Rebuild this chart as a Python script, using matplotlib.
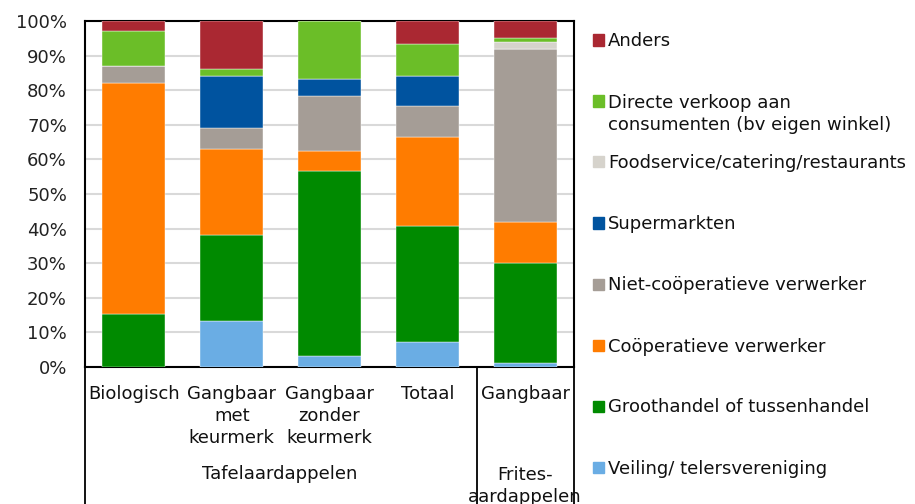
import matplotlib.pyplot as plt
import numpy as np
from matplotlib.patches import Rectangle
from matplotlib.lines import Line2D

categorieen = ["Biologisch", "Gangbaar\nmet\nkeurmerk", "Gangbaar\nzonder\nkeurmerk", "Totaal", "Gangbaar"]
groepen = ["Tafelaardappelen", "Frites-\naardappelen"]

# aandelen per afzetkanaal (%)
veiling = [0, 13.3, 3.2, 7.2, 1.3]
groothandel = [15.2, 24.8, 53.4, 33.5, 28.7]
cooperatief = [66.8, 25.0, 5.8, 25.7, 12.0]
niet_cooperatief = [5.0, 6.1, 15.9, 8.9, 50.0]
supermarkten = [0, 15.0, 4.9, 8.9, 0]
foodservice = [0, 0, 0, 0, 2.0]
direct = [10.0, 2.0, 16.8, 9.1, 1.0]
anders = [3.0, 13.8, 0, 6.7, 5.0]

reeksen = [veiling, groothandel, cooperatief, niet_cooperatief, supermarkten, foodservice, direct, anders]
namen = ["Veiling/ telersvereniging", "Groothandel of tussenhandel", "Coöperatieve verwerker",
         "Niet-coöperatieve verwerker", "Supermarkten", "Foodservice/catering/restaurants",
         "Directe verkoop aan\nconsumenten (bv eigen winkel)", "Anders"]
kleuren = ["#6AADE4", "#008A00", "#FF7C00", "#A59D96", "#00539F", "#D6D3CC", "#6BBE28", "#AA2832"]

fs = 13
regel = 23  # regelafstand in px
plt.rcParams['font.family'] = ['DejaVu Sans']
fig = plt.figure(figsize=(9.15, 5.04), dpi=100)
ax = fig.add_axes([85/915, 1-367/504, (574-85)/915, (367-21)/504])

x = np.arange(len(categorieen))
onder = np.zeros(len(categorieen))
for waarden, kleur in zip(reeksen, kleuren):
    ax.bar(x, waarden, bottom=onder, width=0.645, color=kleur, edgecolor='white', linewidth=0.3, zorder=3)
    onder += np.array(waarden)

ax.set_xlim(-0.5, len(categorieen)-0.5)
ax.set_ylim(0, 100)
ax.set_yticks(np.arange(0, 101, 10))
ax.set_yticklabels([f"{v}%" for v in range(0, 101, 10)], fontsize=fs, color='#222222')
ax.yaxis.grid(True, color='#D9D9D9', linewidth=1.5, zorder=0)
ax.tick_params(axis='y', length=0, pad=13)
ax.set_xticks(x)
ax.set_xticklabels(categorieen, fontsize=fs, va='top', linespacing=1.27, color='#111111')
ax.tick_params(axis='x', length=0, pad=13)
for s in ax.spines.values():
    s.set_linewidth(1.5)

# scheidingslijnen onder de as
for xp in [85, 476.5, 574]:
    fig.add_artist(Line2D([xp/915, xp/915], [0, 1-367/504], color='black', linewidth=1.3))

def tekst(xp, yb, s, ha='center'):
    # yb = basislijn van de eerste regel in px; va='baseline' gebruikt de laatste regel
    n = s.count("\n")
    fig.text(xp/915, 1-(yb + n*regel)/504, s, ha=ha, va='baseline', fontsize=fs,
             linespacing=1.32, color='#111111')

tekst(280, 479, groepen[0])
tekst(525, 479, groepen[1])

# legenda
for i, (naam, kleur) in enumerate(zip(namen[::-1], kleuren[::-1])):
    yc = 40 + 61*i
    fig.add_artist(Rectangle((593/915, 1-(yc+5.5)/504), 11/915, 11/504, color=kleur))
    tekst(608, yc+6.5, naam, ha='left')

fig.savefig("out.png", dpi=100)
